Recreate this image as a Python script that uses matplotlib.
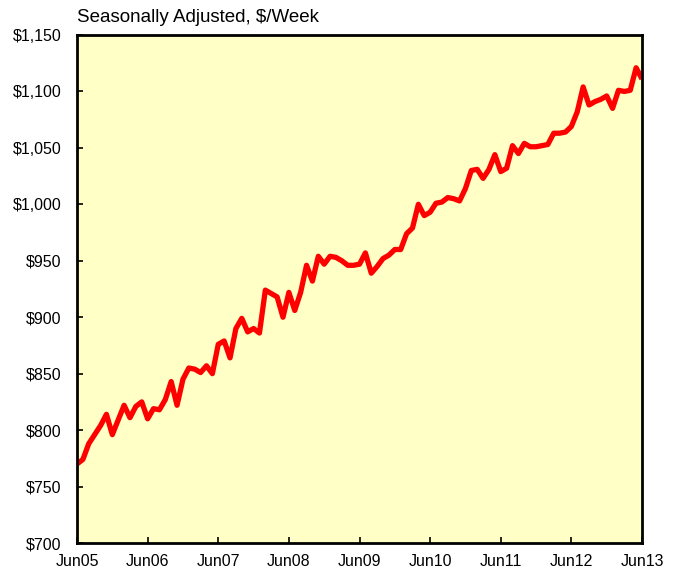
import matplotlib
matplotlib.use("Agg")
import matplotlib.pyplot as plt
import numpy as np

plt.rcParams['font.family'] = ['Liberation Sans', 'DejaVu Sans']

# Monthly average weekly earnings, Jun 2005 .. Jun 2013
earnings = [770, 774, 788, 796, 804, 814, 796, 809, 822, 811, 821, 825,
            810, 819, 818, 827, 843, 822, 845, 855, 854, 851, 857, 850,
            876, 879, 864, 890, 899, 887, 890, 886, 924, 921, 918, 900,
            922, 906, 922, 946, 932, 954, 947, 954, 953, 950, 946, 946,
            947, 957, 939, 945, 952, 955, 960, 960, 974, 979, 1000, 990,
            993, 1001, 1002, 1006, 1005, 1003, 1014, 1030, 1031, 1023, 1031, 1044,
            1029, 1032, 1052, 1045, 1054, 1051, 1051, 1052, 1053, 1063, 1063, 1064,
            1069, 1082, 1104, 1088, 1091, 1093, 1096, 1085, 1101, 1100, 1101, 1121,
            1111]
x_labels = ['Jun05', 'Jun06', 'Jun07', 'Jun08', 'Jun09', 'Jun10', 'Jun11', 'Jun12', 'Jun13']
y_ticks = [700, 750, 800, 850, 900, 950, 1000, 1050, 1100, 1150]
title = 'Seasonally Adjusted, $/Week'

fig = plt.figure(figsize=(6.74, 5.70), dpi=100)
ax = fig.add_axes([77/674, 1-543/570, (642-77)/674, (543-35)/570])
ax.set_facecolor('#FFFFC6')

months = np.arange(len(earnings))
ax.plot(months, earnings, color='#FF0000', lw=3.8, solid_joinstyle='round',
        solid_capstyle='butt')

ax.set_xlim(0, len(earnings)-1)
ax.set_ylim(700, 1150)
ax.set_xticks(np.arange(0, len(earnings), 12))
ax.set_xticklabels(x_labels)
ax.set_yticks(y_ticks)
ax.set_yticklabels(['${:,}'.format(v) for v in y_ticks])
ax.tick_params(direction='in', length=4, width=1.2, labelsize=11.5)
ax.tick_params(axis='x', pad=8)
ax.tick_params(axis='y', pad=11)
for s in ax.spines.values():
    s.set_linewidth(2)
    s.set_color('black')

fig.text(77/674, 1-18/570, title, fontsize=13.5, va='center', ha='left')

fig.savefig('out.png', dpi=100)
